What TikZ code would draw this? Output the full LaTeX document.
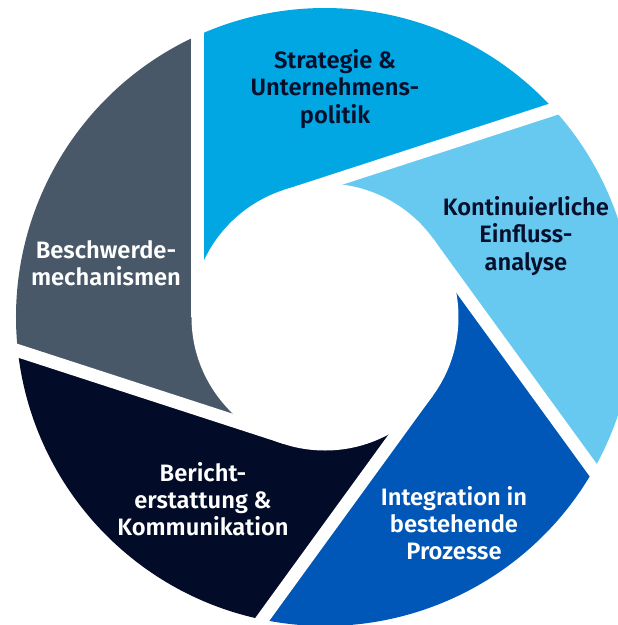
\documentclass[tikz,border=0pt]{standalone}
\usepackage{fontspec}
\setmainfont{Fira Sans}[BoldFont={Fira Sans SemiBold}]
\usepackage{xcolor}

\definecolor{segBlue}{RGB}{0,167,227}
\definecolor{segLight}{RGB}{104,201,240}
\definecolor{segDark}{RGB}{0,87,183}
\definecolor{segNavy}{RGB}{2,12,40}
\definecolor{segGrey}{RGB}{72,88,105}
\definecolor{textNavy}{RGB}{6,16,44}

\tikzset{
  label/.style={align=center, font=\bfseries\fontsize{13.5}{15.5}\selectfont},
  darklabel/.style={label, text=textNavy},
  lightlabel/.style={label, text=white},
  gap/.style={white, line width=0.26cm}
}

\begin{document}
\begin{tikzpicture}[scale=0.02]
	\pgfmathsetmacro{\R}{309}
	\pgfmathsetmacro{\h}{127}
	\pgfmathsetmacro{\r}{\h+6.5}
	\pgfmathsetmacro{\k}{acos(\h/\R)}
	\clip (-325,-308) rectangle (293,317);
	% the five blades
	\foreach \a/\col in {180/segBlue,108/segLight,36/segDark,-36/segNavy,-108/segGrey}
		\fill[\col] (0,0) -- (\a:\h) -- ({\a-\k}:\R)
			arc[start angle={\a-\k}, end angle={\a-72-\k}, radius=\R]
			-- ({\a-72}:\h) -- cycle;
	% cuts between the blades
	\foreach \a in {180,108,36,-36,-108}
		\draw[gap] (\a:\h) -- ++({\a-90}:340);
	\fill[white] (0,0) circle[radius=\r];
	% labels
	\node[darklabel] (strat) at (10,228) {Strategie \&\\Unternehmens-\\politik};
	\node[darklabel] (einfl) at (201,81) {Kontinuierliche\\Einfluss-\\analyse};
	\node[lightlabel] (integ) at (129,-206) {Integration in\\bestehende\\Prozesse};
	\node[lightlabel] (bericht) at (-122,-182) {Bericht-\\erstattung \&\\Kommunikation};
	\node[lightlabel] (beschw) at (-219,54) {Beschwerde-\\mechanismen};
\end{tikzpicture}
\end{document}
